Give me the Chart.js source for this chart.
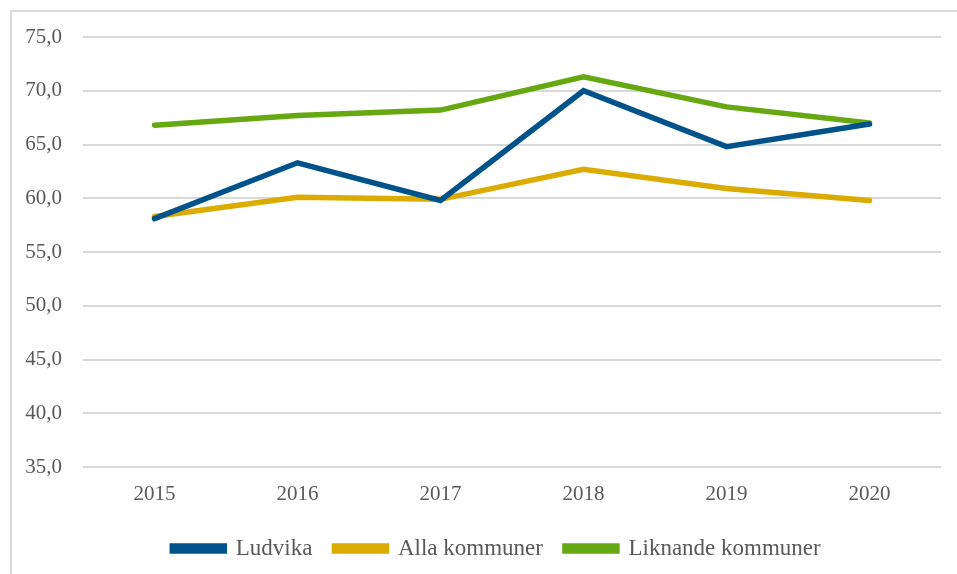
<!DOCTYPE html>
<html>
<head>
<meta charset="utf-8">
<script src="https://cdn.jsdelivr.net/npm/chart.js@4"></script>
<style>
  html, body { margin: 0; padding: 0; background: #fff; overflow: hidden; }
  #frame { position: absolute; left: 10px; top: 10px; width: 1000px; height: 1000px; border: 2px solid #d9d9d9; }
  #wrap { position: absolute; left: 0; top: 0; width: 957px; height: 574px; }
</style>
</head>
<body>
<div id="frame"></div>
<div id="wrap"><canvas id="myChart" width="957" height="574"></canvas></div>
<script>
const years = ['2015', '2016', '2017', '2018', '2019', '2020'];
const ludvika = [58.1, 63.3, 59.8, 70.0, 64.8, 66.9];
const allaKommuner = [58.3, 60.1, 59.9, 62.7, 60.9, 59.8];
const liknandeKommuner = [66.8, 67.7, 68.2, 71.3, 68.5, 67.0];
const seriesNames = ['Ludvika', 'Alla kommuner', 'Liknande kommuner'];
const colors = ['#00538a', '#dcab00', '#65a812'];

const FONT = "'Liberation Serif', 'Times New Roman', serif";
const ctx = document.getElementById('myChart');

function makeSet(i, data) {
  return {
    label: seriesNames[i],
    data: data,
    borderColor: colors[i],
    backgroundColor: colors[i],
    borderWidth: 5.5,
    borderCapStyle: 'round',
    borderJoinStyle: 'miter',
    pointRadius: 0,
    tension: 0
  };
}

// nudge the legend a bit right, like in the original
const legendShift = {
  id: 'legendShift',
  afterLayout(chart) {
    chart.legend.left += 16;
    chart.legend.right += 16;
  }
};

new Chart(ctx, {
  type: 'line',
  data: {
    labels: years,
    datasets: [makeSet(0, ludvika), makeSet(1, allaKommuner), makeSet(2, liknandeKommuner)]
  },
  plugins: [legendShift],
  options: {
    responsive: false,
    animation: false,
    layout: { padding: { left: 20, right: 16, top: 37, bottom: 4 } },
    plugins: {
      tooltip: { enabled: false },
      legend: {
        position: 'bottom',
        labels: {
          boxWidth: 52,
          boxHeight: 5,
          padding: 22,
          color: '#595959',
          font: { family: FONT, size: 23 }
        }
      }
    },
    scales: {
      x: {
        offset: true,
        grid: { display: false },
        border: { display: false },
        ticks: { color: '#595959', padding: 7, font: { family: FONT, size: 21 } },
        afterFit: (scale) => { scale.height = 48; }
      },
      y: {
        min: 35,
        max: 75,
        grid: { color: '#d9d9d9', lineWidth: 2, drawTicks: false },
        border: { display: false },
        ticks: {
          stepSize: 5,
          padding: 21,
          color: '#595959',
          font: { family: FONT, size: 21 },
          callback: (v) => v.toFixed(1).replace('.', ',')
        },
        afterFit: (scale) => { scale.width = 63; }
      }
    }
  }
});
</script>
</body>
</html>
